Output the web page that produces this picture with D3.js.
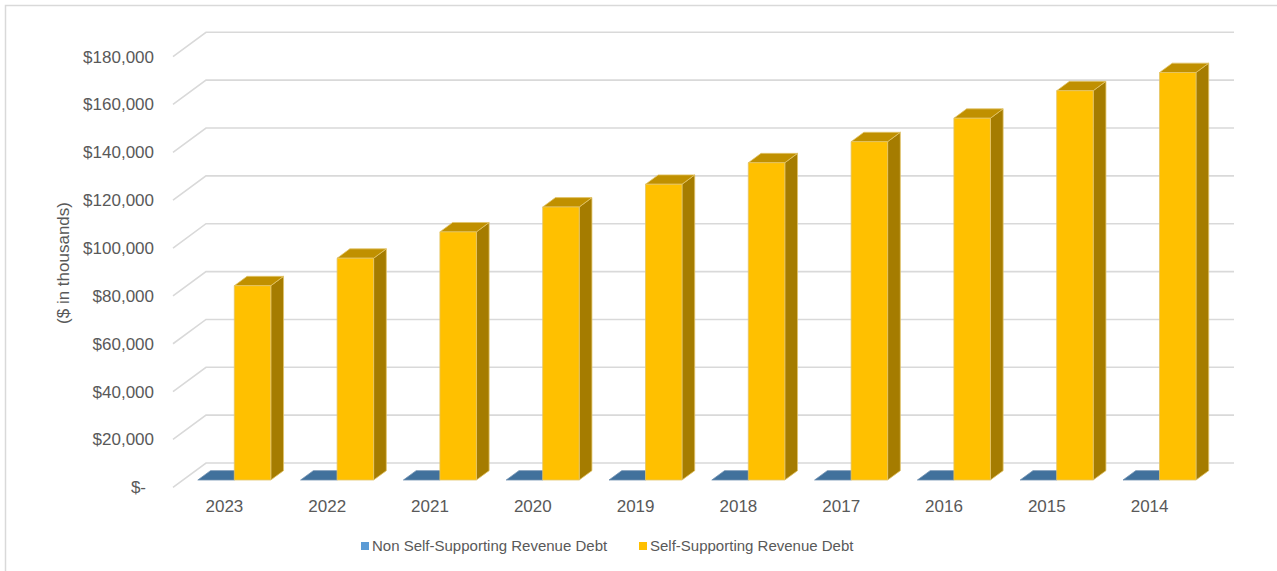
<!DOCTYPE html>
<html>
<head>
<meta charset="utf-8">
<script src="https://cdn.jsdelivr.net/npm/d3@7"></script>
<style>
  html, body { margin: 0; padding: 0; background: #ffffff; }
  svg { display: block; font-family: "Liberation Sans", Arial, sans-serif; }
</style>
</head>
<body>
<svg id="chart" width="1277" height="571"></svg>
<script>
// Fiscal years, most recent first
const years = ["2023", "2022", "2021", "2020", "2019", "2018", "2017", "2016", "2015", "2014"];
const seriesNames = ["Non Self-Supporting Revenue Debt", "Self-Supporting Revenue Debt"];
// Outstanding debt, $ in thousands
const nonSelfSupporting = [0, 0, 0, 0, 0, 0, 0, 0, 0, 0];
const selfSupporting = [81200, 92700, 103700, 114100, 123600, 132600, 141400, 151200, 162700, 170300];
const yTicks = [0, 20000, 40000, 60000, 80000, 100000, 120000, 140000, 160000, 180000];
const yTickLabels = ["$-", "$20,000", "$40,000", "$60,000", "$80,000", "$100,000", "$120,000", "$140,000", "$160,000", "$180,000"];

const svg = d3.select("#chart");

// Outer chart frame
svg.append("rect")
  .attr("x", 5.5).attr("y", 5.5)
  .attr("width", 1290).attr("height", 600)
  .attr("fill", "none").attr("stroke", "#d9d9d9").attr("stroke-width", 1.5);

// 3D plot geometry: front floor edge, wall depth vector
const floorX = 173, floorY = 487.3;
const depth = { dx: 33, dy: 24.3 };
const plotW = 1028;
const barFront = 0.30, barDepth = 0.386;

const y = d3.scaleLinear().domain([0, 180000]).range([0, 430.7]);
const x = d3.scaleBand().domain(years).range([0, plotW]).paddingInner(0.29).paddingOuter(0.145);
const x1 = d3.scaleBand().domain(seriesNames).range([0, x.bandwidth()]);

const backX = floorX + depth.dx, backY = floorY - depth.dy;

// Gridlines on back and side walls
const grid = svg.append("g").attr("stroke", "#d9d9d9").attr("stroke-width", 1.6).attr("fill", "none");
yTicks.forEach(t => {
  grid.append("path").attr("d", d3.line()([
    [floorX, floorY - y(t)],
    [backX, backY - y(t)],
    [backX + plotW, backY - y(t)]
  ]));
});

// Value axis labels
svg.append("g").selectAll("text").data(yTicks).join("text")
  .attr("x", (d, i) => d === 0 ? 146 : 154)
  .attr("y", d => floorY - y(d))
  .attr("dy", "0.35em")
  .attr("text-anchor", "end")
  .attr("font-size", 17)
  .attr("fill", "#595959")
  .text((d, i) => yTickLabels[i]);

// Axis title
svg.append("text")
  .attr("transform", "translate(63,263) rotate(-90)")
  .attr("text-anchor", "middle")
  .attr("dy", "0.35em")
  .attr("font-size", 17)
  .attr("fill", "#595959")
  .text("($ in thousands)");

// Category labels along the front floor edge
svg.append("g").selectAll("text").data(years).join("text")
  .attr("x", d => floorX + x(d) + x.bandwidth() / 2)
  .attr("y", 506)
  .attr("dy", "0.35em")
  .attr("text-anchor", "middle")
  .attr("font-size", 17)
  .attr("fill", "#595959")
  .text(d => d);

// 3D columns
const palette = {
  [seriesNames[0]]: { front: "#5b9bd5", top: "#41719c", side: "#335a7c", edge: "#6e8fb0" },
  [seriesNames[1]]: { front: "#ffc000", top: "#c09000", side: "#a57c00", edge: "#e2c46a" }
};
const bdx = depth.dx * barDepth, bdy = depth.dy * barDepth;
const baseX = floorX + depth.dx * barFront;
const baseY = floorY - depth.dy * barFront;

const bars = [];
years.forEach((yr, i) => {
  bars.push({ year: yr, series: seriesNames[0], value: nonSelfSupporting[i] });
  bars.push({ year: yr, series: seriesNames[1], value: selfSupporting[i] });
});

const barG = svg.append("g");
bars.forEach(b => {
  const c = palette[b.series];
  const x0 = baseX + x(b.year) + x1(b.series);
  const w = x1.bandwidth();
  const yb = baseY, yt = baseY - y(b.value);
  const g = barG.append("g").attr("stroke", c.edge).attr("stroke-width", 0.8).attr("stroke-linejoin", "round");
  if (b.value > 0) {
    // side face
    g.append("path").attr("fill", c.side).attr("d", d3.line()([
      [x0 + w, yt], [x0 + w + bdx, yt - bdy], [x0 + w + bdx, yb - bdy], [x0 + w, yb]
    ]) + "Z");
  }
  // top face
  g.append("path").attr("fill", c.top).attr("d", d3.line()([
    [x0, yt], [x0 + w, yt], [x0 + w + bdx, yt - bdy], [x0 + bdx, yt - bdy]
  ]) + "Z");
  if (b.value > 0) {
    // front face
    g.append("rect").attr("fill", c.front)
      .attr("x", x0).attr("y", yt).attr("width", w).attr("height", yb - yt);
  }
});

// Legend
const legendItems = [
  { name: seriesNames[0], color: "#5b9bd5", x: 361 },
  { name: seriesNames[1], color: "#ffc000", x: 639 }
];
const lg = svg.append("g");
legendItems.forEach(it => {
  lg.append("rect").attr("x", it.x).attr("y", 542).attr("width", 8).attr("height", 8).attr("fill", it.color);
  lg.append("text").attr("x", it.x + 11).attr("y", 546).attr("dy", "0.35em")
    .attr("font-size", 15).attr("fill", "#595959").text(it.name);
});
</script>
</body>
</html>
